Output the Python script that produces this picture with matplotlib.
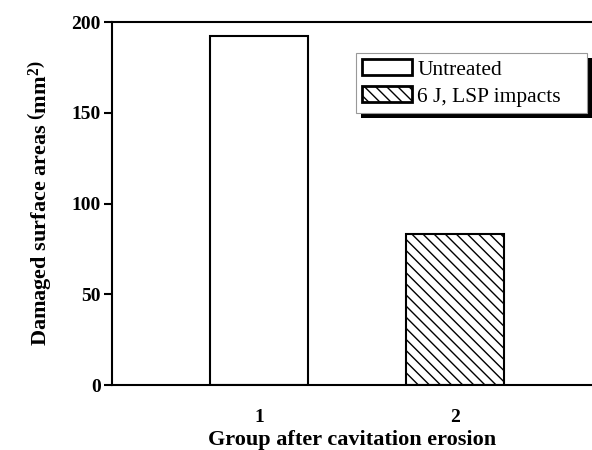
import matplotlib
matplotlib.use('Agg')
import matplotlib.pyplot as plt
from matplotlib.patches import Rectangle

groups = [1, 2]
labels = ['Untreated', '6 J, LSP impacts']
areas = [192.3, 83.2]
hatches = ['', '\\\\\\']

plt.rcParams['font.family'] = 'Liberation Serif'
plt.rcParams['mathtext.fontset'] = 'custom'
plt.rcParams['mathtext.rm'] = 'Liberation Serif:bold'
plt.rcParams['mathtext.it'] = 'Liberation Serif:bold'
plt.rcParams['mathtext.bf'] = 'Liberation Serif:bold'
plt.rcParams['hatch.linewidth'] = 1.0

fig = plt.figure(figsize=(5.92, 4.5), dpi=100)
ax = fig.add_axes([112 / 592, 65 / 450, 480 / 592, 363 / 450])

for g, a, lab, h in zip(groups, areas, labels, hatches):
    ax.bar(g, a, width=0.5, color='white', edgecolor='black',
           linewidth=1.5, hatch=h, label=lab)

ax.set_xlim(0.25, 2.70)
ax.set_ylim(0, 200)
ax.set_xticks(groups)
ax.set_yticks([0, 50, 100, 150, 200])
ax.spines['right'].set_visible(False)
for s in ['left', 'top', 'bottom']:
    ax.spines[s].set_linewidth(1.5)
ax.tick_params(axis='y', direction='out', length=6, width=1.5, pad=2, labelsize=14)
ax.tick_params(axis='x', length=0, pad=17, labelsize=14)
for t in ax.get_xticklabels() + ax.get_yticklabels():
    t.set_fontweight('bold')

ax.set_xlabel('Group after cavitation erosion', fontsize=16, fontweight='bold', labelpad=3)
ax.set_ylabel(r'Damaged surface areas $\left(\mathrm{mm}^{2}\right)$', fontsize=16,
              fontweight='bold', labelpad=13)

leg = ax.legend(loc='upper left', bbox_to_anchor=(0.508, 0.0, 0.481, 0.915),
                mode='expand', borderaxespad=0,
                fontsize=15.5, fancybox=False, framealpha=1,
                handlelength=2.3, handleheight=0.75, handletextpad=0.25,
                labelspacing=0.3, borderpad=0.3)
leg.get_frame().set_edgecolor('#999999')
leg.get_frame().set_linewidth(0.8)
leg.set_zorder(6)
for p in leg.get_patches():
    p.set_linewidth(2)

# black drop shadow offset like the original
fig.canvas.draw()
bb = leg.get_window_extent()
ax.add_patch(Rectangle((bb.x0 + 5, bb.y0 - 5), bb.width, bb.height, transform=None,
                       facecolor='black', edgecolor='none', zorder=5.5, clip_on=False))

fig.savefig('out.png', dpi=100)
